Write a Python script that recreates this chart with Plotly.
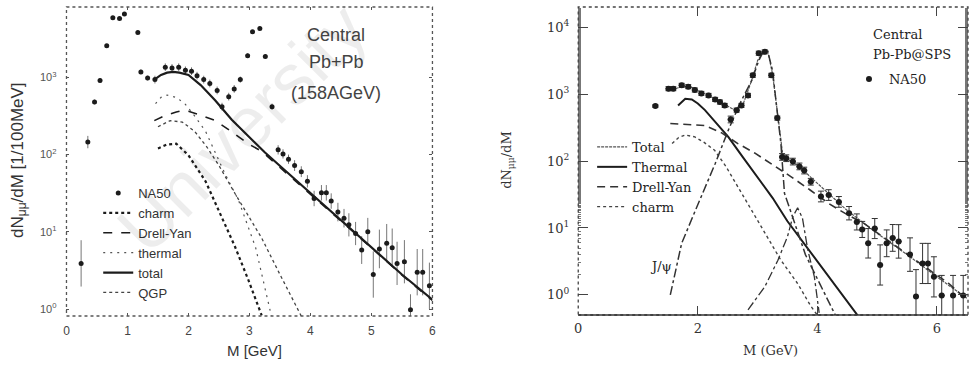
import plotly.graph_objects as go

# ---------------- left panel: Central Pb+Pb (158 AGeV) ----------------
left_data_m = [0.24, 0.35, 0.46, 0.55, 0.66, 0.76, 0.87, 0.95, 1.17, 1.22, 1.33, 1.45,
               1.62, 1.73, 1.84, 1.95, 2.05, 2.14, 2.25, 2.35, 2.47, 2.55, 2.66, 2.75,
               2.85, 2.97, 3.05, 3.17, 3.26, 3.37, 3.47, 3.55, 3.64, 3.74, 3.85, 3.95,
               4.06, 4.18, 4.26, 4.34, 4.45, 4.55, 4.63, 4.74, 4.84, 4.94, 5.03, 5.13,
               5.25, 5.34, 5.42, 5.54, 5.64, 5.75, 5.84, 5.95]
left_data_n = [3.9, 145, 479, 912, 2570, 5890, 5750, 6610, 3800, 1175, 977, 933,
               1350, 1320, 1350, 1230, 1200, 1050, 933, 832, 676, 417, 562, 708,
               933, 1905, 3890, 4270, 1860, 417, 115, 102, 87, 72, 60, 45,
               27, 32, 32, 25, 18, 15, 12.3, 9.5, 5.8, 10, 2.8, 6.0,
               7.1, 6.2, 3.9, 4.1, 0.98, 3.0, 3.0, 2.0]
# half-length of each error bar, in decades
left_err_dec = [0.3, 0.08, 0.03, 0.03, 0.02, 0.02, 0.02, 0.02, 0.02, 0.03, 0.03, 0.05,
                0.05, 0.05, 0.05, 0.05, 0.05, 0.05, 0.05, 0.05, 0.05, 0.05, 0.05, 0.05,
                0.04, 0.03, 0.02, 0.02, 0.03, 0.04, 0.06, 0.06, 0.06, 0.07, 0.07, 0.08,
                0.10, 0.10, 0.10, 0.10, 0.12, 0.12, 0.15, 0.15, 0.18, 0.18, 0.30, 0.25,
                0.25, 0.25, 0.28, 0.28, 0.20, 0.30, 0.30, 0.30]

left_total_m = [1.44, 1.55, 1.65, 1.75, 1.85, 2.0, 2.2, 2.44, 2.71, 2.98, 3.25, 3.52,
                4.0, 4.5, 5.0, 5.5, 6.0]
left_total_n = [933, 1072, 1148, 1175, 1148, 1072, 794, 501, 282, 174, 107, 69,
                31.6, 14.1, 6.3, 2.8, 1.32]
left_dy_m = [1.44, 1.6, 1.8, 1.9, 2.0, 2.2, 2.44, 2.7, 2.98, 3.2, 3.5, 4.0, 4.5, 5.0, 5.5, 6.0]
left_dy_n = [275, 316, 355, 372, 363, 324, 275, 200, 138, 110, 68, 31, 13.8, 6.2, 2.75, 1.29]
left_thermal_m = [1.46, 1.55, 1.65, 1.8, 1.95, 2.1, 2.28, 2.45, 2.6, 2.82, 3.1, 3.36]
left_thermal_n = [457, 550, 589, 550, 447, 316, 200, 100, 56, 25.7, 6.3, 0.81]
left_charm_m = [1.5, 1.65, 1.8, 2.0, 2.28, 2.55, 2.76, 2.98, 3.2]
left_charm_n = [120, 135, 138, 98, 45, 15.5, 6.5, 2.4, 0.83]
left_qgp_m = [1.5, 1.7, 1.9, 2.1, 2.3, 2.5, 2.76, 3.0, 3.2, 3.5, 3.85]
left_qgp_n = [229, 275, 263, 200, 126, 72, 31.6, 15.1, 8.3, 2.8, 0.81]

left_ytick_vals = [1, 10, 100, 1000]
left_ytick_text = ["10<sup>0</sup>", "10<sup>1</sup>", "10<sup>2</sup>", "10<sup>3</sup>"]

# ---------------- right panel: Central Pb-Pb @ SPS ----------------
right_data_m = [1.29, 1.51, 1.59, 1.73, 1.84, 1.95, 2.06, 2.18, 2.29, 2.37, 2.45, 2.55,
                2.65, 2.73, 2.84, 2.92, 3.02, 3.12, 3.23, 3.33, 3.41, 3.48, 3.59, 3.70,
                3.78, 3.89, 4.06, 4.19, 4.36, 4.53, 4.66, 4.75, 4.85, 4.96, 5.05, 5.16,
                5.26, 5.36, 5.55, 5.65, 5.76, 5.85, 5.95, 6.08, 6.27, 6.44]
right_data_n = [661, 1202, 1202, 1349, 1288, 1148, 1023, 955, 832, 759, 676, 417,
                575, 676, 955, 1905, 4074, 4266, 1905, 437, 115, 110, 98, 83,
                72, 49, 29.5, 31, 24.5, 16.6, 12.3, 9.5, 5.9, 9.8, 2.8, 5.9,
                7.1, 6.3, 4.0, 0.95, 2.95, 2.95, 1.86, 0.98, 0.98, 0.98]
right_err_dec = [0.02, 0.03, 0.03, 0.03, 0.03, 0.03, 0.03, 0.03, 0.03, 0.03, 0.03, 0.05,
                 0.03, 0.03, 0.03, 0.03, 0.03, 0.03, 0.03, 0.03, 0.05, 0.05, 0.05, 0.05,
                 0.05, 0.05, 0.08, 0.08, 0.08, 0.10, 0.12, 0.12, 0.22, 0.15, 0.30, 0.20,
                 0.20, 0.25, 0.25, 0.40, 0.30, 0.30, 0.30, 0.30, 0.30, 0.30]
right_bin_half = 0.05

right_total_m = [1.5, 1.7, 1.85, 2.0, 2.2, 2.4, 2.6, 2.75, 2.9, 3.0, 3.1, 3.17, 3.25,
                 3.35, 3.42, 3.5, 3.7, 3.9, 4.2, 4.5, 5.0, 5.5, 6.0, 6.5]
right_total_n = [1122, 1259, 1318, 1148, 933, 741, 589, 676, 1585, 3162, 4365, 4365, 1995,
                 398, 126, 107, 83, 56, 31.6, 18.2, 8.3, 4.0, 1.86, 0.89]
right_thermal_m = [1.67, 1.79, 1.9, 2.0, 2.12, 2.3, 2.51, 2.75, 3.0, 3.25, 3.5, 3.75,
                   4.0, 4.25, 4.5, 4.75]
right_thermal_n = [676, 851, 832, 724, 575, 380, 229, 115, 57.5, 28.2, 12.6, 6.3,
                   3.16, 1.58, 0.79, 0.40]
right_dy_m = [1.54, 1.8, 2.12, 2.4, 2.67, 2.95, 3.23, 3.55, 3.89, 4.2, 4.5, 4.78,
              5.05, 5.33, 5.6, 5.89, 6.2, 6.5]
right_dy_n = [363, 355, 339, 263, 182, 132, 91, 59, 36.3, 22.9, 15.8, 11.7,
              7.9, 5.2, 3.5, 2.3, 1.48, 0.85]
right_charm_m = [1.57, 1.68, 1.79, 1.95, 2.1, 2.28, 2.47, 2.67, 2.9, 3.12, 3.39, 3.67, 3.89, 4.0]
right_charm_n = [182, 224, 245, 229, 191, 145, 83, 41, 18.6, 8.3, 3.3, 1.48, 0.68, 0.5]
right_jpsi_m = [1.54, 1.73, 2.01, 2.29, 2.51, 2.7, 2.9, 3.02, 3.1, 3.17, 3.25, 3.34,
                3.39, 3.45, 3.56, 3.8, 4.05, 4.3]
right_jpsi_n = [1.0, 5.9, 23.4, 91, 288, 708, 1585, 3162, 4365, 4365, 2239, 457,
                182, 33, 16.6, 4.0, 1.41, 0.5]
right_psip_m = [2.84, 3.12, 3.34, 3.5, 3.59, 3.67, 3.75, 3.84, 3.95, 4.03]
right_psip_n = [0.6, 1.32, 3.3, 7.4, 14.8, 20, 14.1, 4.7, 1.86, 0.54]

right_ytick_vals = [1, 10, 100, 1000, 10000]
right_ytick_text = ["10<sup>0</sup>", "10<sup>1</sup>", "10<sup>2</sup>", "10<sup>3</sup>", "10<sup>4</sup>"]
right_xtick_vals = [0, 2, 4, 6]

INK = "#1c1c1c"
SANS = "Liberation Sans"
SERIF = "DejaVu Serif"


def err_bars(values, decades):
    up = [v * (10 ** d - 1) for v, d in zip(values, decades)]
    dn = [v * (1 - 10 ** (-d)) for v, d in zip(values, decades)]
    return up, dn


fig = go.Figure()

# ---- left traces ----
lu, ld = err_bars(left_data_n, left_err_dec)
fig.add_trace(go.Scatter(
    x=left_data_m, y=left_data_n, mode="markers", name="NA50",
    marker=dict(size=5, color=INK),
    error_y=dict(type="data", array=lu, arrayminus=ld, color="#777", thickness=1, width=0),
    xaxis="x", yaxis="y", legend="legend"))
fig.add_trace(go.Scatter(x=left_charm_m, y=left_charm_n, mode="lines", name="charm",
                         line=dict(color=INK, width=2.2, dash="dot"),
                         xaxis="x", yaxis="y", legend="legend"))
fig.add_trace(go.Scatter(x=left_dy_m, y=left_dy_n, mode="lines", name="Drell-Yan",
                         line=dict(color=INK, width=1.6, dash="dash"),
                         xaxis="x", yaxis="y", legend="legend"))
fig.add_trace(go.Scatter(x=left_thermal_m, y=left_thermal_n, mode="lines", name="thermal",
                         line=dict(color="#555", width=1.2, dash="2px,5px"),
                         xaxis="x", yaxis="y", legend="legend"))
fig.add_trace(go.Scatter(x=left_total_m, y=left_total_n, mode="lines", name="total",
                         line=dict(color=INK, width=2.2),
                         xaxis="x", yaxis="y", legend="legend"))
fig.add_trace(go.Scatter(x=left_qgp_m, y=left_qgp_n, mode="lines", name="QGP",
                         line=dict(color="#444", width=1.3, dash="dot"),
                         xaxis="x", yaxis="y", legend="legend"))

# ---- right traces ----
fig.add_trace(go.Scatter(x=right_total_m, y=right_total_n, mode="lines", name="Total",
                         line=dict(color="#555", width=1.2, dash="3px,1px"),
                         xaxis="x2", yaxis="y2", legend="legend2"))
fig.add_trace(go.Scatter(x=right_thermal_m, y=right_thermal_n, mode="lines", name="Thermal",
                         line=dict(color=INK, width=2),
                         xaxis="x2", yaxis="y2", legend="legend2"))
fig.add_trace(go.Scatter(x=right_dy_m, y=right_dy_n, mode="lines", name="Drell-Yan",
                         line=dict(color="#333", width=1.6, dash="8px,5px"),
                         xaxis="x2", yaxis="y2", legend="legend2"))
fig.add_trace(go.Scatter(x=right_charm_m, y=right_charm_n, mode="lines", name="charm",
                         line=dict(color="#444", width=1.4, dash="dot"),
                         xaxis="x2", yaxis="y2", legend="legend2"))
fig.add_trace(go.Scatter(x=right_jpsi_m, y=right_jpsi_n, mode="lines", name="J/ψ",
                         line=dict(color="#333", width=1.5, dash="dashdot"),
                         xaxis="x2", yaxis="y2", showlegend=False))
fig.add_trace(go.Scatter(x=right_psip_m, y=right_psip_n, mode="lines", name="ψ'",
                         line=dict(color="#333", width=1.3, dash="dashdot"),
                         xaxis="x2", yaxis="y2", showlegend=False))
ru, rd = err_bars(right_data_n, right_err_dec)
fig.add_trace(go.Scatter(
    x=right_data_m, y=right_data_n, mode="markers", name="NA50",
    marker=dict(size=6, color=INK),
    error_y=dict(type="data", array=ru, arrayminus=rd, color="#333", thickness=1, width=3),
    error_x=dict(type="constant", value=right_bin_half, color="#333", thickness=1.5, width=0),
    xaxis="x2", yaxis="y2", legend="legend3"))

LEFT_X = [63 / 973, 432 / 973]
RIGHT_X = [579 / 973, 972 / 973]
TOP = 1 - 7 / 365

axis_common = dict(showgrid=False, zeroline=False, showline=False)

fig.update_layout(
    width=973, height=365,
    margin=dict(l=0, r=0, t=0, b=0),
    paper_bgcolor="white", plot_bgcolor="white",
    xaxis=dict(domain=LEFT_X, anchor="y", range=[0, 6], dtick=1, ticks="inside", ticklen=3,
               tickcolor="#555", mirror="ticks", ticklabelstandoff=6,
               tickfont=dict(family=SANS, size=12, color="#444"), **axis_common),
    yaxis=dict(domain=[1 - 316 / 365, TOP], anchor="x", type="log", range=[-0.09, 3.91],
               tickvals=left_ytick_vals, ticktext=left_ytick_text,
               ticks="inside", ticklen=3, tickcolor="#555", mirror="ticks",
               ticklabelstandoff=9,
               tickfont=dict(family=SANS, size=11, color="#555"), **axis_common),
    xaxis2=dict(domain=RIGHT_X, anchor="y2", range=[0, 6.52], tickvals=right_xtick_vals,
                ticks="inside", ticklen=9, tickcolor="#444", mirror="ticks",
                ticklabelstandoff=4,
                tickfont=dict(family=SERIF, size=13, color="#333"), **axis_common),
    yaxis2=dict(domain=[1 - 315 / 365, TOP], anchor="x2", type="log", range=[-0.30, 4.30],
                tickvals=right_ytick_vals, ticktext=right_ytick_text,
                ticks="inside", ticklen=10, tickcolor="#444", mirror="ticks",
                ticklabelstandoff=8,
                minor=dict(ticks="inside", ticklen=3, tickcolor="#777", showgrid=False),
                tickfont=dict(family=SERIF, size=13, color="#333"), **axis_common),
    legend=dict(x=95 / 973, y=1 - 178 / 365, xanchor="left", yanchor="top",
                bgcolor="rgba(0,0,0,0)", tracegroupgap=0, itemwidth=30,
                font=dict(family=SANS, size=13, color="#333")),
    legend2=dict(x=593 / 973, y=1 - 132 / 365, xanchor="left", yanchor="top",
                 bgcolor="rgba(0,0,0,0)", tracegroupgap=0, itemwidth=30,
                 font=dict(family=SERIF, size=13, color="#222")),
    legend3=dict(x=852 / 973, y=1 - 64 / 365, xanchor="left", yanchor="top",
                 bgcolor="rgba(0,0,0,0)", itemwidth=30,
                 font=dict(family=SERIF, size=13, color="#222")),
    showlegend=True,
)

# dotted frames around both panels, solid base line on the right panel
fig.add_shape(type="rect", xref="x domain", yref="y domain", x0=0, x1=1, y0=0, y1=1,
              line=dict(color="#555", width=1.3, dash="dot"))
fig.add_shape(type="rect", xref="x2 domain", yref="y2 domain", x0=0, x1=1, y0=0, y1=1,
              line=dict(color="#444", width=1.3, dash="dot"))
fig.add_shape(type="line", xref="x2 domain", yref="y2 domain", x0=0, x1=1, y0=0, y1=0,
              line=dict(color="#333", width=1.6))

ann = []
# axis titles
ann.append(dict(text="dN<sub>μμ</sub>/dM [1/100MeV]", xref="paper", yref="paper",
                x=15 / 973, y=1 - 160 / 365, textangle=-90, showarrow=False,
                xanchor="center", yanchor="middle",
                font=dict(family=SANS, size=17, color="#333")))
ann.append(dict(text="M [GeV]", xref="paper", yref="paper", x=253 / 973, y=1 - 350 / 365,
                xanchor="center", yanchor="middle", showarrow=False,
                font=dict(family=SANS, size=15, color="#333")))
ann.append(dict(text="dN<sub>μμ</sub>/dM", xref="paper", yref="paper",
                x=507 / 973, y=1 - 160 / 365, textangle=-90, showarrow=False,
                xanchor="center", yanchor="middle",
                font=dict(family=SERIF, size=13, color="#333")))
ann.append(dict(text="M (GeV)", xref="paper", yref="paper", x=773 / 973, y=1 - 350 / 365,
                xanchor="center", yanchor="middle", showarrow=False,
                font=dict(family=SERIF, size=13, color="#333")))
# panel labels
for txt, yy in [("Central", 35), ("Pb+Pb", 62), ("(158AGeV)", 93)]:
    ann.append(dict(text=txt, xref="paper", yref="paper", x=335 / 973, y=1 - yy / 365,
                    xanchor="center", yanchor="middle", showarrow=False,
                    font=dict(family=SANS, size=18, color="#444")))
for txt, yy in [("Central", 35), ("Pb-Pb@SPS", 55)]:
    ann.append(dict(text=txt, xref="paper", yref="paper", x=874 / 973, y=1 - yy / 365,
                    xanchor="left", yanchor="middle", showarrow=False,
                    font=dict(family=SERIF, size=13, color="#222")))
ann.append(dict(text="J/ψ", xref="x2", yref="y2", x=1.38, y=0.42, showarrow=False,
                font=dict(family=SERIF, size=13, color="#222")))
# faint diagonal watermark
ann.append(dict(text="University", xref="paper", yref="paper", x=240 / 973, y=1 - 128 / 365,
                xanchor="center", yanchor="middle", textangle=-45, showarrow=False,
                font=dict(family=SANS, size=72, color="rgba(0,0,0,0.07)")))
fig.update_layout(annotations=ann)

fig.write_html("out.html")
